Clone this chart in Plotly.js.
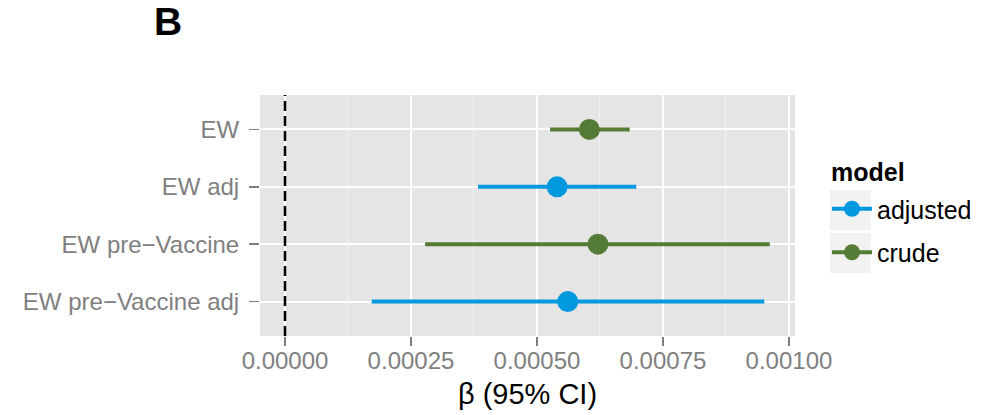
<!DOCTYPE html>
<html>
<head>
<meta charset="utf-8">
<script src="https://cdn.plot.ly/plotly-3.0.1.min.js"></script>
<style>body{margin:0;background:#fff}#chart{width:992px;height:415px}</style>
</head>
<body>
<div id="chart"></div>
<script>
// ---- data ----
const rows = ["EW", "EW adj", "EW pre\u2212Vaccine", "EW pre\u2212Vaccine adj"];
const rowModel = ["crude", "adjusted", "crude", "adjusted"];
const estimate = [0.000604, 0.000540, 0.000621, 0.000561];
const lower    = [0.000526, 0.000383, 0.000278, 0.000172];
const upper    = [0.000684, 0.000697, 0.000962, 0.000951];
const models = ["adjusted", "crude"];
const modelColors = {adjusted: "#0099DF", crude: "#557C37"};
const xTicks = [0, 0.00025, 0.0005, 0.00075, 0.001];
const xTickLabels = ["0.00000", "0.00025", "0.00050", "0.00075", "0.00100"];
const legendTitle = "model";
const refLine = 0;

const FONT = "Liberation Sans, Arial, Helvetica, sans-serif";

const traces = [];
models.forEach((m, gi) => {
  const idx = rows.map((r, i) => i).filter(i => rowModel[i] === m);
  traces.push({
    type: "scatter", mode: "markers",
    x: idx.map(i => estimate[i]),
    y: idx.map(i => rows[i]),
    marker: {color: modelColors[m], size: 21},
    error_x: {
      type: "data", symmetric: false,
      array: idx.map(i => upper[i] - estimate[i]),
      arrayminus: idx.map(i => estimate[i] - lower[i]),
      color: modelColors[m], thickness: 4, width: 0
    },
    showlegend: false, hoverinfo: "x+y"
  });
  // legend entry
  traces.push({
    type: "scatter", mode: "lines+markers",
    x: [null], y: [null], name: m, legendgroup: m,
    line: {color: modelColors[m], width: 4},
    marker: {color: modelColors[m], size: 16},
    showlegend: true
  });
});

const W = 992, H = 415;
const ml = 260, mr = 197, mt = 95, mb = 79;
const pw = W - ml - mr, ph = H - mt - mb;
const px = v => (v - ml) / pw;
const py = v => (H - mb - v) / ph;

const layout = {
  width: W, height: H,
  margin: {l: ml, r: mr, t: mt, b: mb, pad: 0},
  paper_bgcolor: "#ffffff",
  plot_bgcolor: "#E5E5E5",
  font: {family: FONT, color: "#000"},
  title: {
    text: "<b>B</b>", font: {family: FONT, size: 39, color: "#000"},
    xref: "container", yref: "container",
    x: 154 / W, xanchor: "left", y: 1 - 21 / H, yanchor: "middle"
  },
  xaxis: {
    range: [-0.0000496, 0.001012],
    tickvals: xTicks, ticktext: xTickLabels,
    showgrid: true, gridcolor: "#FFFFFF", gridwidth: 2,
    minor: {dtick: 0.000125, tick0: 0.000125, showgrid: true, gridcolor: "#F2F2F2", gridwidth: 1, ticks: ""},
    zeroline: false, showline: false,
    ticks: "outside", ticklen: 9, tickwidth: 1.5, tickcolor: "#7F7F7F",
    ticklabelstandoff: -6,
    tickfont: {family: FONT, size: 24, color: "#7F7F7F"},
    title: {text: "\u03B2 (95% CI)", font: {family: FONT, size: 29, color: "#000"}, standoff: 10}
  },
  yaxis: {
    type: "category",
    categoryorder: "array", categoryarray: rows.slice().reverse(),
    range: [-0.6, 3.6],
    showgrid: true, gridcolor: "#FFFFFF", gridwidth: 2,
    zeroline: false, showline: false,
    ticks: "outside", ticklen: 10, tickwidth: 1.5, tickcolor: "#7F7F7F",
    ticklabelstandoff: 5,
    tickfont: {family: FONT, size: 24, color: "#7F7F7F"}
  },
  shapes: [
    {type: "line", xref: "x", yref: "paper", x0: refLine, x1: refLine, y0: 0, y1: 1,
     line: {color: "#000", width: 2.5, dash: "10px,5px"}, layer: "above"},
    {type: "rect", xref: "paper", yref: "paper", x0: px(830), x1: px(871), y0: py(230), y1: py(190),
     fillcolor: "#F2F2F2", line: {width: 0}, layer: "below"},
    {type: "rect", xref: "paper", yref: "paper", x0: px(830), x1: px(871), y0: py(273), y1: py(233),
     fillcolor: "#F2F2F2", line: {width: 0}, layer: "below"}
  ],
  annotations: [
    {text: "<b>" + legendTitle + "</b>", xref: "paper", yref: "paper",
     x: px(829), y: py(172), xanchor: "left", yanchor: "middle", showarrow: false,
     font: {family: FONT, size: 25, color: "#000"}}
  ],
  showlegend: true,
  legend: {
    x: px(827), xanchor: "left", y: py(186), yanchor: "top",
    bgcolor: "rgba(0,0,0,0)",
    font: {family: FONT, size: 25, color: "#000"},
    traceorder: "grouped", tracegroupgap: 8,
    itemwidth: 40,
    itemclick: false
  }
};

Plotly.newPlot("chart", traces, layout, {displayModeBar: false, staticPlot: true});
</script>
</body>
</html>
